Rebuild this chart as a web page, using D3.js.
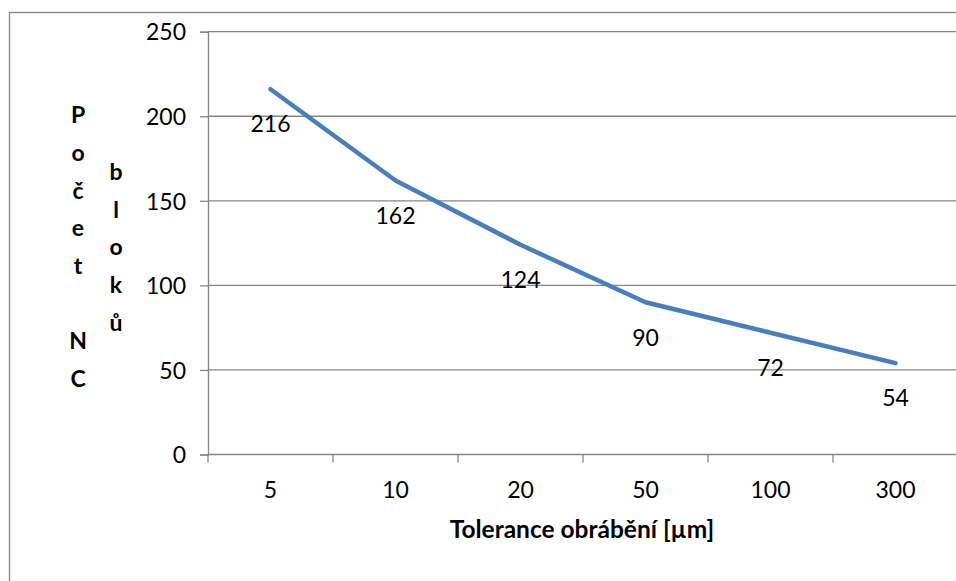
<!DOCTYPE html>
<html>
<head>
<meta charset="utf-8">
<script src="https://cdn.jsdelivr.net/npm/d3@7/dist/d3.min.js"></script>
<style>
  html, body { margin: 0; padding: 0; background: #fff; }
  svg { display: block; }
  text { font-family: Lato, "Open Sans", sans-serif; fill: #000; }
</style>
</head>
<body>
<svg id="chart" width="956" height="581"></svg>
<script>
const categories = ["5", "10", "20", "50", "100", "300"];
const values = [216, 162, 124, 90, 72, 54];
const yTicks = [0, 50, 100, 150, 200, 250];
const xTitle = "Tolerance obrábění [µm]";
const yTitleCol1 = ["P", "o", "č", "e", "t", "", "N", "C"];
const yTitleCol2 = ["b", "l", "o", "k", "ů"];

const svg = d3.select("#chart");
const plotLeft = 208, plotRight = 958, plotTop = 31.7, plotBottom = 454.5;

// outer chart border
svg.append("rect")
  .attr("x", 9.5).attr("y", 12.5)
  .attr("width", 1000).attr("height", 1000)
  .attr("fill", "none").attr("stroke", "#868686").attr("stroke-width", 1.3);

const x = d3.scaleBand().domain(categories).range([plotLeft, plotRight]).padding(0);
const y = d3.scaleLinear().domain([0, 250]).range([plotBottom, plotTop]);

// gridlines
svg.append("g").selectAll("line").data(yTicks.filter(d => d > 0)).join("line")
  .attr("x1", plotLeft).attr("x2", plotRight)
  .attr("y1", d => y(d)).attr("y2", d => y(d))
  .attr("stroke", "#868686").attr("stroke-width", 1.3);

// y axis
const yAxis = svg.append("g").attr("transform", `translate(${plotLeft},0)`)
  .call(d3.axisLeft(y).tickValues(yTicks).tickSize(8).tickPadding(14));
yAxis.select(".domain").attr("stroke", "#868686").attr("stroke-width", 1.3);
yAxis.selectAll(".tick line").attr("stroke", "#868686").attr("stroke-width", 1.3);
yAxis.selectAll(".tick text").attr("font-size", 23).attr("font-family", "Lato").attr("dy", "0.36em");

// x axis
const xTickPos = categories.map(c => x(c)).concat([plotRight]);
svg.append("line").attr("x1", plotLeft).attr("x2", plotRight)
  .attr("y1", plotBottom).attr("y2", plotBottom)
  .attr("stroke", "#868686").attr("stroke-width", 1.3);
svg.append("g").selectAll("line").data(xTickPos).join("line")
  .attr("x1", d => d).attr("x2", d => d)
  .attr("y1", plotBottom).attr("y2", plotBottom + 8)
  .attr("stroke", "#868686").attr("stroke-width", 1.3);
svg.append("g").selectAll("text").data(categories).join("text")
  .attr("x", d => x(d) + x.bandwidth() / 2)
  .attr("y", 490).attr("dy", "0.36em")
  .attr("text-anchor", "middle").attr("font-size", 23)
  .text(d => d);

// line
const pts = categories.map((c, i) => ({ c, v: values[i] }));
svg.append("path").datum(pts)
  .attr("fill", "none").attr("stroke", "#4a7ebb").attr("stroke-width", 4.5)
  .attr("stroke-linecap", "round").attr("stroke-linejoin", "round")
  .attr("d", d3.line().x(d => x(d.c) + x.bandwidth() / 2).y(d => y(d.v)));

// data labels
svg.append("g").selectAll("text").data(pts).join("text")
  .attr("x", d => x(d.c) + x.bandwidth() / 2)
  .attr("y", d => y(d.v) + 35).attr("dy", "0.36em")
  .attr("text-anchor", "middle").attr("font-size", 23)
  .text(d => d.v);

// axis titles
svg.append("text").attr("x", 582).attr("y", 529).attr("dy", "0.36em")
  .attr("text-anchor", "middle").attr("font-size", 24.5).attr("font-weight", "bold")
  .text(xTitle);

svg.append("g").selectAll("text").data(yTitleCol1).join("text")
  .attr("x", 78).attr("y", (d, i) => 115 + i * 37.7).attr("dy", "0.36em")
  .attr("text-anchor", "middle").attr("font-size", 23).attr("font-weight", "bold")
  .text(d => d);
svg.append("g").selectAll("text").data(yTitleCol2).join("text")
  .attr("x", 116).attr("y", (d, i) => 172 + i * 37.6).attr("dy", "0.36em")
  .attr("text-anchor", "middle").attr("font-size", 23).attr("font-weight", "bold")
  .text(d => d);
</script>
</body>
</html>
